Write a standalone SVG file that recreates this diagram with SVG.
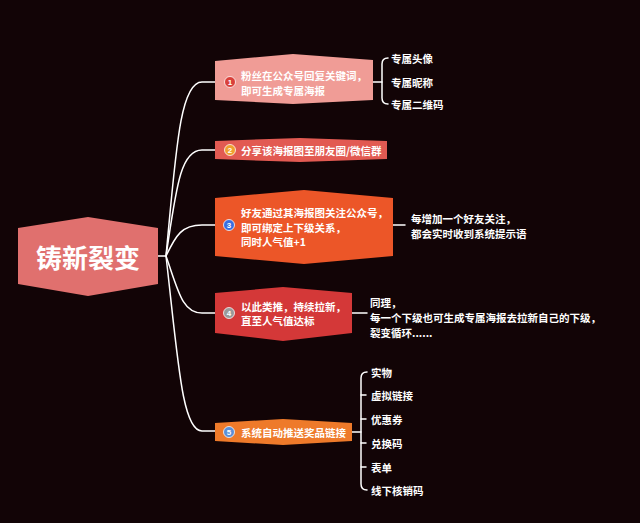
<svg xmlns="http://www.w3.org/2000/svg" width="640" height="523" viewBox="0 0 640 523">
<style>
.t{font-family:"Noto Sans CJK SC","Noto Sans",sans-serif;font-size:10.5px;font-weight:bold;fill:#ffffff;dominant-baseline:central}
.c{fill:none;stroke:#ffffff;stroke-width:1.5;stroke-linecap:round;stroke-linejoin:round}
.n{font-family:"Liberation Sans",sans-serif;font-size:8px;font-weight:bold;fill:#ffffff;text-anchor:middle;dominant-baseline:central}
.ring{stroke:#ffffff;stroke-opacity:0.75;stroke-width:1}
</style>
<rect x="0" y="0" width="640" height="523" fill="#120406"/>
<g id="connectors">
<path class="c" d="M158 256 H166"/>
<path class="c" d="M166 256 C176 150 180 82 202 82 H215"/>
<path class="c" d="M166 256 C176 190 180 150 202 150 H215"/>
<path class="c" d="M166 256 C176 235 182 225 202 225 H215"/>
<path class="c" d="M166 256 C178 290 182 313 202 313 H215"/>
<path class="c" d="M166 256 C178 360 182 431 202 431 H215"/>
<path class="c" d="M373 82 H382"/>
<path class="c" d="M388 58 Q382 58 382 64 V98 Q382 104 388 104"/>
<path class="c" d="M393 225 H405"/>
<path class="c" d="M352 313 H367"/>
<path class="c" d="M352 432 H361"/>
<path class="c" d="M367 372 Q361 372 361 378 V484 Q361 490 367 490"/>
<path class="c" d="M361 395 H366 M361 419 H366 M361 443 H366 M361 467 H366"/>
</g>
<g id="center">
<polygon points="18,228 88,217 158,228 158,284 88,296 18,284" fill="#e0706e"/>
<text x="88" y="256" font-family="'Noto Sans CJK SC',sans-serif" font-size="26" font-weight="bold" fill="#ffffff" text-anchor="middle" dominant-baseline="central">铸新裂变</text>
</g>
<g id="node1">
<polygon points="215,61 293,54 373,60 373,100 293,104 215,100" fill="#f09c96"/>
<circle class="ring" cx="230" cy="82" r="5.5" fill="#d9403a"/>
<text class="n" x="230" y="82">1</text>
<text class="t" x="241" y="75">粉丝在公众号回复关键词，</text>
<text class="t" x="241" y="90">即可生成专属海报</text>
</g>
<g id="node1-children">
<text class="t" x="391" y="58">专属头像</text>
<text class="t" x="391" y="82">专属昵称</text>
<text class="t" x="391" y="104">专属二维码</text>
</g>
<g id="node2">
<polygon points="215,141 300,138 387,141 387,159 300,162 215,159" fill="#e25a52"/>
<circle class="ring" cx="230" cy="150" r="5.5" fill="#f0a030"/>
<text class="n" x="230" y="150">2</text>
<text class="t" x="241" y="150">分享该海报图至朋友圈/微信群</text>
</g>
<g id="node3">
<polygon points="215,198 304,190 393,198 393,256 304,264 215,256" fill="#ec5628"/>
<circle class="ring" cx="229" cy="225" r="5.5" fill="#3a6fe0"/>
<text class="n" x="229" y="225">3</text>
<text class="t" x="241" y="212">好友通过其海报图关注公众号，</text>
<text class="t" x="241" y="227">即可绑定上下级关系，</text>
<text class="t" x="241" y="241">同时人气值+1</text>
</g>
<g id="note3">
<text class="t" x="411" y="218">每增加一个好友关注，</text>
<text class="t" x="411" y="233">都会实时收到系统提示语</text>
</g>
<g id="node4">
<polygon points="215,293 283,287 352,293 352,333 283,341 215,333" fill="#d43838"/>
<circle class="ring" cx="229" cy="313" r="5.5" fill="#9a9a9a"/>
<text class="n" x="229" y="313">4</text>
<text class="t" x="241" y="306">以此类推，持续拉新，</text>
<text class="t" x="241" y="320">直至人气值达标</text>
</g>
<g id="note4">
<text class="t" x="370" y="302">同理，</text>
<text class="t" x="370" y="317">每一个下级也可生成专属海报去拉新自己的下级，</text>
<text class="t" x="370" y="332">裂变循环......</text>
</g>
<g id="node5">
<polygon points="215,423 283,419 352,423 352,441 283,445 215,441" fill="#ee7a2a"/>
<circle class="ring" cx="229" cy="432" r="5.5" fill="#5b8fd6"/>
<text class="n" x="229" y="432">5</text>
<text class="t" x="241" y="432">系统自动推送奖品链接</text>
</g>
<g id="node5-children">
<text class="t" x="371" y="372">实物</text>
<text class="t" x="371" y="395">虚拟链接</text>
<text class="t" x="371" y="419">优惠券</text>
<text class="t" x="371" y="443">兑换码</text>
<text class="t" x="371" y="467">表单</text>
<text class="t" x="371" y="490">线下核销码</text>
</g>
</svg>
